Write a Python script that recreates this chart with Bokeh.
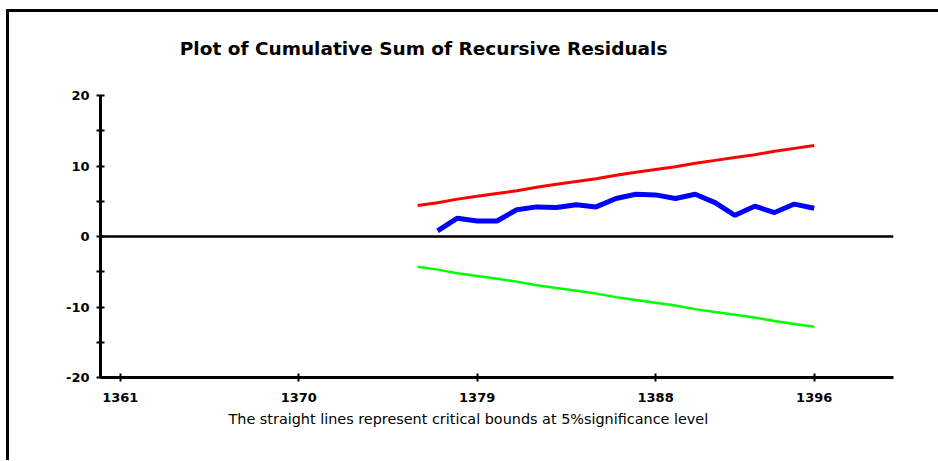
from bokeh.plotting import figure
from bokeh.models import Range1d, FixedTicker, Span, Title, Label
from bokeh.embed import file_html
from bokeh.resources import INLINE

# ---- data ----
bound_years = list(range(1376, 1397))
upper_bound = [4.4, 4.8, 5.3, 5.7, 6.1, 6.5, 7.0, 7.4, 7.8, 8.2, 8.7,
               9.1, 9.5, 9.9, 10.4, 10.8, 11.2, 11.6, 12.1, 12.5, 12.9]
lower_bound = [-4.3, -4.7, -5.2, -5.6, -6.0, -6.4, -6.9, -7.3, -7.7, -8.1, -8.6,
               -9.0, -9.4, -9.8, -10.3, -10.7, -11.1, -11.5, -12.0, -12.4, -12.8]
cusum_years = list(range(1377, 1397))
cusum = [0.8, 2.6, 2.2, 2.2, 3.8, 4.2, 4.1, 4.5, 4.2, 5.4, 6.0,
         5.9, 5.4, 6.0, 4.8, 3.0, 4.3, 3.4, 4.6, 4.0]
x_ticks = [1361, 1370, 1379, 1388, 1396]
y_ticks = [-20, -10, 0, 10, 20]
y_tick_labels = ["-20", "-10", "0", "10", "20"]
y_minor = [-15, -5, 5, 15]

TITLE = "Plot of Cumulative Sum of Recursive Residuals"
CAPTION = "The straight lines represent critical bounds at 5%significance level"

FONT = "DejaVu Sans"

# the plotting area extends above the y axis (which is bounded to -20..20)
# so that the title can sit inside it
p = figure(output_backend="svg", toolbar_location=None,
           frame_width=793, frame_height=352,
           min_border_left=91, min_border_right=45,
           min_border_top=13, min_border_bottom=83,
           x_range=Range1d(1360, 1400), y_range=Range1d(-20, 29.93),
           background_fill_color="white", border_fill_color="white")
p.styles = {"border-left": "3px solid black", "border-top": "3px solid black",
            "margin-top": "9px", "margin-left": "6px"}
p.outline_line_color = None
p.grid.visible = False

# axes
for ax in (p.xaxis[0], p.yaxis[0]):
    ax.axis_line_width = 3
    ax.axis_line_color = "black"
    ax.major_tick_line_width = 2
    ax.minor_tick_line_width = 2
    ax.major_tick_in = 4
    ax.major_tick_out = 4
    ax.major_label_text_font = FONT
    ax.major_label_text_font_style = "bold"
    ax.major_label_text_font_size = "13px"
    ax.major_label_text_color = "black"

p.xaxis.ticker = FixedTicker(ticks=x_ticks)
p.xaxis.minor_tick_line_color = None
p.xaxis.major_label_standoff = 11
p.yaxis.ticker = FixedTicker(ticks=y_ticks, minor_ticks=y_minor)
p.yaxis.bounds = (-20, 20)
p.yaxis.major_label_overrides = dict(zip(y_ticks, y_tick_labels))
p.yaxis.minor_tick_in = 4
p.yaxis.minor_tick_out = 4
p.yaxis.major_label_standoff = 7

# zero line
p.add_layout(Span(location=0, dimension="width", line_color="black", line_width=2.5))

# series
p.line(bound_years, upper_bound, line_color="#ff0000", line_width=3)
p.line(bound_years, lower_bound, line_color="#00ff00", line_width=2.5)
p.line(cusum_years, cusum, line_color="#0000ff", line_width=5)

# title and caption
p.add_layout(Label(x=1364.0, y=26.6, text=TITLE, text_font=FONT, text_color="black",
                   text_font_style="bold", text_font_size="18.5px",
                   text_align="left", text_baseline="middle"))
c = Title(text=CAPTION, align="left", offset=128, text_font=FONT, text_color="black",
          text_font_style="normal", text_font_size="14.4px", standoff=8)
p.add_layout(c, "below")

open("out.html", "w").write(file_html(p, INLINE))
